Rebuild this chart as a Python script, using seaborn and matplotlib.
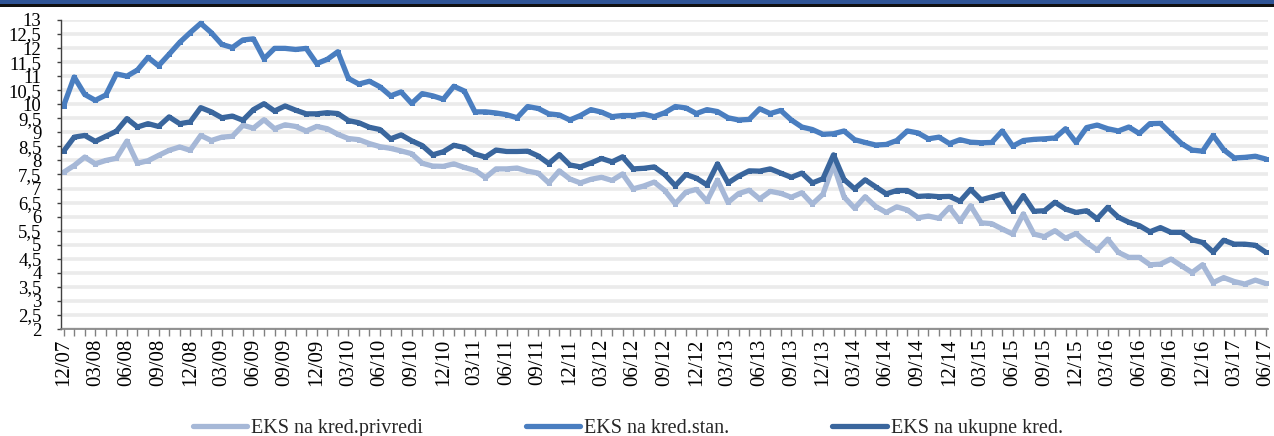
import matplotlib
matplotlib.use("Agg")
import matplotlib.pyplot as plt
import seaborn as sns
import pandas as pd
import numpy as np
from matplotlib.patches import Rectangle

# ---------------- data ----------------
series_names = ["EKS na kred.privredi", "EKS na kred.stan.", "EKS na ukupne kred."]

privredi = [
    7.58, 7.82, 8.12, 7.88, 8.00, 8.08, 8.69, 7.90, 7.99, 8.18, 8.36, 8.48, 8.36, 8.89, 8.71,
    8.83, 8.86, 9.25, 9.15, 9.45, 9.13, 9.27, 9.21, 9.05, 9.21,
    9.13, 8.93, 8.78, 8.74, 8.60, 8.49, 8.43, 8.34, 8.24, 7.90, 7.80, 7.79, 7.88, 7.75, 7.65,
    7.39, 7.70, 7.70, 7.73, 7.62, 7.55, 7.20, 7.63, 7.34, 7.20, 7.33, 7.40, 7.29, 7.52, 6.99,
    7.09, 7.23, 6.93, 6.46, 6.87, 6.97, 6.55, 7.30, 6.51, 6.82, 6.94, 6.63, 6.90, 6.83, 6.69,
    6.85, 6.45, 6.80, 7.85, 6.70, 6.30, 6.71, 6.36, 6.15, 6.35, 6.24, 5.96, 6.02, 5.94, 6.33,
    5.83, 6.39,
    5.78, 5.75, 5.56, 5.38, 6.10, 5.38, 5.29, 5.50, 5.23, 5.40, 5.08, 4.81, 5.20, 4.73, 4.55,
    4.55, 4.29, 4.31, 4.49, 4.25, 4.01, 4.29, 3.65, 3.83, 3.69, 3.60, 3.74, 3.62,
]

stan = [
    9.95, 10.97, 10.35, 10.14, 10.33, 11.08, 11.00, 11.22, 11.67, 11.37, 11.78, 12.20, 12.55,
    12.88, 12.55, 12.13, 12.02, 12.29, 12.33, 11.62, 11.99, 11.99, 11.95, 11.99, 11.45,
    11.60, 11.87, 10.92, 10.72, 10.82, 10.62, 10.30, 10.44, 10.03, 10.38, 10.30, 10.18, 10.64,
    10.47, 9.73, 9.73, 9.69, 9.63, 9.52, 9.92, 9.85, 9.66, 9.62, 9.44, 9.60, 9.81, 9.72, 9.56,
    9.60, 9.60,
    9.65, 9.56, 9.70, 9.92, 9.87, 9.67, 9.81, 9.74, 9.52, 9.44, 9.46, 9.84, 9.67, 9.78, 9.44,
    9.19, 9.10, 8.93, 8.95, 9.05, 8.74, 8.64, 8.55, 8.57, 8.71, 9.05, 8.98, 8.77, 8.83, 8.60,
    8.74, 8.65,
    8.63, 8.64, 9.05, 8.51, 8.71, 8.75, 8.77, 8.80, 9.13, 8.64, 9.17, 9.26, 9.13, 9.05, 9.19,
    8.96, 9.31, 9.32, 8.96, 8.60, 8.37, 8.33, 8.89, 8.38, 8.09, 8.11, 8.15, 8.05,
]

ukupne = [
    8.33, 8.83, 8.89, 8.68, 8.86, 9.04, 9.49, 9.19, 9.31, 9.21, 9.55, 9.31, 9.37, 9.88, 9.73,
    9.52, 9.58, 9.43, 9.81, 10.02, 9.76, 9.94, 9.79, 9.66, 9.66,
    9.70, 9.67, 9.42, 9.34, 9.18, 9.10, 8.77, 8.91, 8.70, 8.53, 8.20, 8.31, 8.54, 8.46, 8.23,
    8.12, 8.37, 8.32, 8.32, 8.33, 8.16, 7.89, 8.21, 7.84, 7.77, 7.91, 8.07, 7.95, 8.13, 7.70,
    7.72, 7.77, 7.50, 7.10, 7.50, 7.37, 7.13, 7.88, 7.20, 7.44, 7.63, 7.62, 7.70, 7.55, 7.40,
    7.55, 7.20, 7.35, 8.20, 7.32, 6.99, 7.31, 7.06, 6.81, 6.93, 6.93, 6.72, 6.74, 6.71, 6.72,
    6.55, 6.97,
    6.60, 6.70, 6.80, 6.21, 6.75, 6.19, 6.21, 6.51, 6.27, 6.15, 6.21, 5.92, 6.33, 5.98, 5.80,
    5.68, 5.46, 5.61, 5.44, 5.44, 5.18, 5.08, 4.74, 5.16, 5.02, 5.02, 4.98, 4.73,
]

x_tick_labels = [
    "12/07", "03/08", "06/08", "09/08", "12/08", "03/09", "06/09", "09/09", "12/09", "03/10",
    "06/10", "09/10", "12/10", "03/11", "06/11", "09/11", "12/11", "03/12", "06/12", "09/12",
    "12/12", "03/13", "06/13", "09/13", "12/13", "03/14", "06/14", "09/14", "12/14", "03/15",
    "06/15", "09/15", "12/15", "03/16", "06/16", "09/16", "12/16", "03/17", "06/17",
]
y_tick_values = [2, 2.5, 3, 3.5, 4, 4.5, 5, 5.5, 6, 6.5, 7, 7.5, 8, 8.5, 9, 9.5, 10, 10.5,
                 11, 11.5, 12, 12.5, 13]
y_tick_labels = ["2", "2,5", "3", "3,5", "4", "4,5", "5", "5,5", "6", "6,5", "7", "7,5", "8",
                 "8,5", "9", "9,5", "10", "10,5", "11", "11,5", "12", "12,5", "13"]

colors = ["#A6B8D7", "#4A7EC0", "#3A669D"]

# ---------------- figure ----------------
sns.set_theme(style="white")
plt.rcParams["font.family"] = ["Liberation Serif", "DejaVu Serif"]

W, H = 1274, 436
fig = plt.figure(figsize=(W / 100, H / 100), dpi=100)
fig.patch.set_facecolor("white")

# top banner strip (cut-off title bar)
fig.patches.append(Rectangle((0, 1 - 4 / H), 1, 4 / H, transform=fig.transFigure,
                             facecolor="#2F5496", edgecolor="none", zorder=0))
fig.patches.append(Rectangle((0, 1 - 7 / H), 1, 3 / H, transform=fig.transFigure,
                             facecolor="#111111", edgecolor="none", zorder=0))

left, right, top, bottom = 61, 1268, 20, 329
ax = fig.add_axes([left / W, 1 - bottom / H, (right - left) / W, (bottom - top) / H])

n = len(privredi)
idx = np.arange(n)
df = pd.DataFrame({
    "idx": np.concatenate([idx, idx, idx]),
    "value": privredi + stan + ukupne,
    "series": [series_names[0]] * n + [series_names[1]] * n + [series_names[2]] * n,
})

for name, col in zip(series_names, colors):
    sub = df[df["series"] == name]
    sns.lineplot(data=sub, x="idx", y="value", color=col, linewidth=3.8,
                 marker="s", markersize=3.6, markeredgewidth=0, label=name, ax=ax,
                 solid_joinstyle="round", clip_on=False)

ax.set_xlim(-0.25, n - 1 + 0.2)
ax.set_ylim(2, 13)
ax.set_xlabel("")
ax.set_ylabel("")

# grid as light bands
ax.set_axisbelow(True)
ax.yaxis.grid(True, color="#EBEBEB", linewidth=2.6)
ax.xaxis.grid(False)

ax.set_yticks(y_tick_values)
ax.set_yticklabels(y_tick_labels)
ax.set_xticks(np.arange(0, n, 3))
ax.set_xticklabels(x_tick_labels, rotation=90)
ax.set_xticks(np.arange(0, n, 1), minor=True)

ax.tick_params(axis="y", which="major", left=True, length=3, width=1, color="#404040",
               direction="out", labelsize=13.5, pad=11, labelcolor="black")
ax.tick_params(axis="x", which="both", bottom=True, length=5, width=1, color="#808080",
               direction="out", labelsize=15, pad=2, labelcolor="black")

for s in ["top", "right"]:
    ax.spines[s].set_visible(False)
ax.spines["left"].set_color("#404040")
ax.spines["left"].set_linewidth(1)
ax.spines["bottom"].set_color("#808080")
ax.spines["bottom"].set_linewidth(1.2)

leg = ax.legend(loc="center", bbox_to_anchor=(628 / W, 1 - 428 / H),
                bbox_transform=fig.transFigure, ncol=3, frameon=False, fontsize=14.5,
                handlelength=2.7, handletextpad=0.2, columnspacing=5.1)

fig.savefig("out.png", dpi=100, facecolor="white")
